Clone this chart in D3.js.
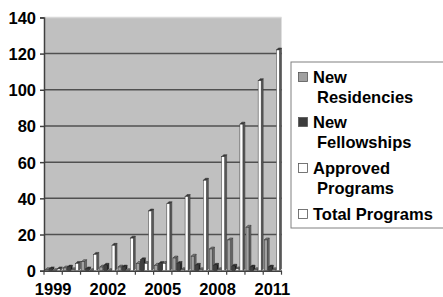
<!DOCTYPE html>
<html><head><meta charset="utf-8">
<script src="https://cdn.jsdelivr.net/npm/d3@7/dist/d3.min.js"></script>
<style>body{margin:0;background:#fff}svg{display:block}text{font-family:"Liberation Sans",Arial,sans-serif;font-weight:bold}</style>
</head><body><svg id="c" width="443" height="297"></svg>
<script>
const years = ["1999","2000","2001","2002","2003","2004","2005","2006","2007","2008","2009","2010","2011"];
const seriesNames = ["New Residencies","New Fellowships","Approved Programs","Total Programs"];
const newResidencies = [0.5,1.5,5,2,2,4,3,7,8,12,17,24,17];
const newFellowships = [1,2,1,3,2,6,4,4,3,3,2.5,2,2];
const approvedPrograms = [0,0.5,0,0,0,4,4,0.5,0.5,0.5,1,0.5,0.5];
const totalPrograms = [1,4,9,14,18,33,37,41,50,63,81,105,122];
const yTicks = [0,20,40,60,80,100,120,140];
const xLabelYears = ["1999","2002","2005","2008","2011"];

const seriesValues = [newResidencies,newFellowships,approvedPrograms,totalPrograms];
const faceColors = ["#a2a2a2","#404040","#ffffff","#ffffff"];
const sideColors = ["#6a6a6a","#1e1e1e","#8a8a8a","#5a5a5a"];
const topColors = ["#7a7a7a","#2a2a2a","#6a6a6a","#3a3a3a"];
const legendColors = ["#a0a0a0","#3c3c3c","#ffffff","#ffffff"];

const svg = d3.select("#c");
const L=44, R=281.5, T=17.4, B=270.7;
const x = d3.scaleBand().domain(years).range([L,R]).padding(0);
const x1 = d3.scaleBand().domain(d3.range(4)).range([1, x.bandwidth()-1]).padding(0);
const y = d3.scaleLinear().domain([0,140]).range([B,T]);

svg.append("rect").attr("x",L).attr("y",T).attr("width",R-L).attr("height",B-T).attr("fill","#c0c0c0");
svg.append("g").selectAll("line").data(yTicks.slice(1)).join("line")
  .attr("x1",L).attr("x2",R).attr("y1",d=>y(d)).attr("y2",d=>y(d))
  .attr("stroke",d=>d===140?"#d8d8d8":"#505050").attr("stroke-width",1.5);

const yAxis = svg.append("g").attr("transform",`translate(${L},0)`)
  .call(d3.axisLeft(y).tickValues(yTicks).tickSize(4).tickPadding(4));
yAxis.select(".domain").attr("stroke","#404040").attr("stroke-width",1.5);
yAxis.selectAll(".tick line").attr("stroke","#404040").attr("stroke-width",1.5);
yAxis.selectAll("text").attr("font-size",16.5).attr("fill","#000").attr("dy","0.36em");

const xAxis = svg.append("g").attr("transform",`translate(0,${B})`)
  .call(d3.axisBottom(x).tickSize(0).tickFormat(d=>xLabelYears.includes(d)?d:""));
xAxis.select(".domain").attr("stroke","#404040").attr("stroke-width",1.5);
xAxis.selectAll("text").attr("font-size",16.5).attr("fill","#000").attr("dy","0").attr("y",24.5);
svg.append("g").selectAll("line").data(years.concat(["end"])).join("line")
  .attr("x1",(d,i)=>L+i*x.bandwidth()).attr("x2",(d,i)=>L+i*x.bandwidth())
  .attr("y1",B).attr("y2",B+4).attr("stroke","#404040").attr("stroke-width",1.2);

const w=3, dd=2;
const bars = [];
years.forEach((yr,i)=>seriesValues.forEach((vals,s)=>bars.push({yr,s,v:vals[i]})));
const g = svg.append("g");
bars.forEach(b=>{
  const x0 = x(b.yr)+x1(b.s);
  const yt = y(b.v), y0 = y(0);
  const bg = g.append("g");
  bg.append("polygon").attr("points",`${x0+w},${yt} ${x0+w+dd},${yt-dd} ${x0+w+dd},${y0-dd} ${x0+w},${y0}`)
    .attr("fill",sideColors[b.s]).attr("stroke","#333").attr("stroke-width",0.5);
  bg.append("polygon").attr("points",`${x0},${yt} ${x0+dd},${yt-dd} ${x0+w+dd},${yt-dd} ${x0+w},${yt}`)
    .attr("fill",topColors[b.s]).attr("stroke","#333").attr("stroke-width",0.5);
  bg.append("rect").attr("x",x0).attr("y",yt).attr("width",w).attr("height",y0-yt)
    .attr("fill",faceColors[b.s]).attr("stroke","#333").attr("stroke-width",0.5);
});

// legend
const lg = svg.append("g");
lg.append("rect").attr("x",291).attr("y",62).attr("width",160).attr("height",166)
  .attr("fill","#fff").attr("stroke","#808080").attr("stroke-width",1);
const legendLines = [["New","Residencies"],["New","Fellowships"],["Approved","Programs"],["Total Programs"]];
const legendY = [77,122,168,214];
legendLines.forEach((lines,i)=>{
  lg.append("rect").attr("x",298.5).attr("y",legendY[i]-4.5).attr("width",9).attr("height",9)
    .attr("fill",legendColors[i]).attr("stroke","#555").attr("stroke-width",0.8);
  lines.forEach((t,j)=>{
    lg.append("text").attr("x",j===0?313:317).attr("y",legendY[i]+j*20.5).attr("dy","0.36em")
      .attr("font-size",16.5).attr("fill","#000").text(t);
  });
});
</script></body></html>
